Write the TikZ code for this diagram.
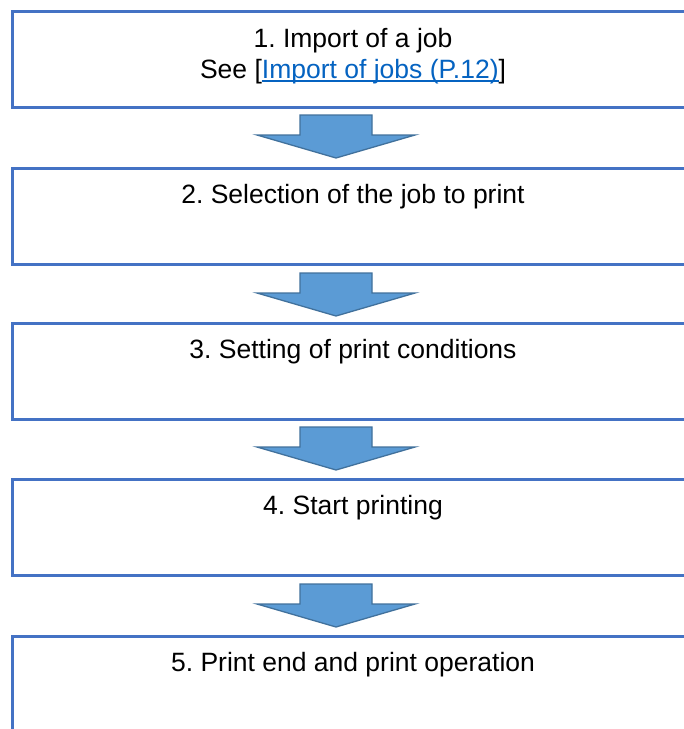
\documentclass[tikz,border=0pt]{standalone}
\usepackage{fontspec}
\setmainfont{Liberation Sans}
\frenchspacing
\definecolor{boxblue}{HTML}{4472C4}
\definecolor{arrfill}{HTML}{5B9BD5}
\definecolor{arrline}{HTML}{41719C}
\definecolor{linkblue}{HTML}{0563C1}
\newcommand{\linkul}[1]{\setbox0\hbox{#1}\rlap{\rule[-3.5pt]{\wd0}{1.6pt}}\box0}
\begin{document}
\begin{tikzpicture}[x=1pt,y=-1pt,
  stepbox/.style={draw=boxblue,line width=2.6pt,rectangle,minimum width=690pt,minimum height=96pt,inner sep=0pt,anchor=north west},
  steptext/.style={font=\fontsize{26.5}{31}\selectfont,align=center,anchor=base,inner sep=0pt},
  blockarrow/.style={fill=arrfill,draw=arrline,line width=1.3pt,line join=miter}]
\useasboundingbox (0,0) rectangle (684,729);
\clip (0,0) rectangle (684,729);
\fill[white] (0,0) rectangle (684,729);
% boxes
\node[stepbox] (b1) at (11,10) {};
\node[stepbox] (b2) at (11,167) {};
\node[stepbox] (b3) at (11,322) {};
\node[stepbox] (b4) at (11,478) {};
\node[stepbox,minimum height=120pt] (b5) at (11,635) {};
% texts
\node[steptext] (t1) at (353,78) {1. Import of a job\\See [{\color{linkblue}\linkul{Import of jobs (P.12)}}]};
\node[steptext] (t2) at (353,203) {2. Selection of the job to print};
\node[steptext] (t3) at (353,358) {3. Setting of print conditions};
\node[steptext] (t4) at (353,514) {4. Start printing};
\node[steptext] (t5) at (353,671) {5. Print end and print operation};
% arrows
\foreach \y/\n in {106/1,264/2,418/3,575/4}{
  \coordinate (a\n) at (336,\y);
  \draw[blockarrow] (a\n) ++(-36,9) -- ++(72,0) -- ++(0,20) -- ++(43,0) -- ++(-79,23) -- ++(-79,-23) -- ++(43,0) -- cycle;
}
\end{tikzpicture}
\end{document}
